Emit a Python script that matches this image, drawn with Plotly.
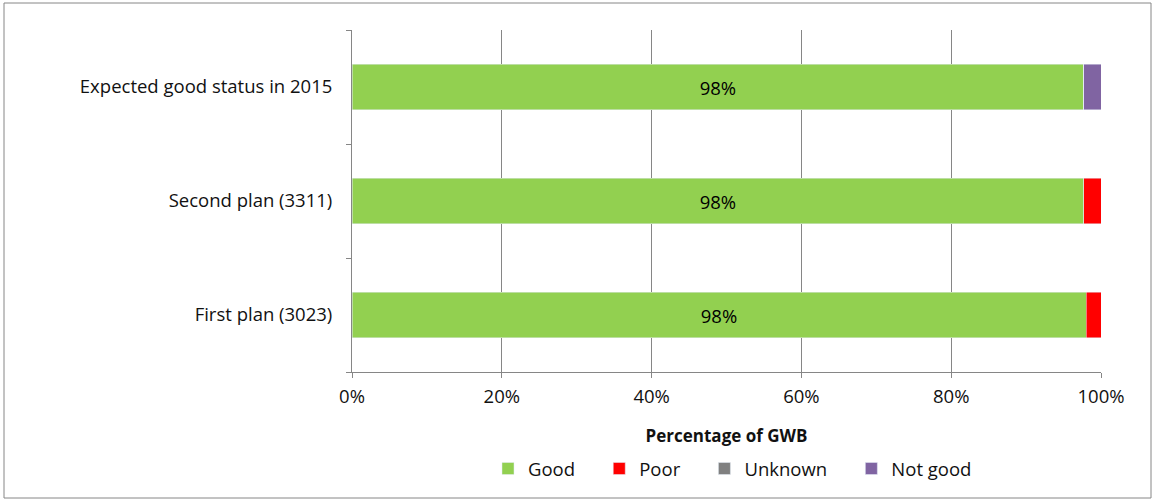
import plotly.graph_objects as go

categories = ["First plan (3023)", "Second plan (3311)", "Expected good status in 2015"]
good = [98.0, 97.7, 97.7]
poor = [2.0, 2.3, 0.0]
unknown = [0.0, 0.0, 0.0]
not_good = [0.0, 0.0, 2.3]
good_labels = ["98%", "98%", "98%"]
x_ticks = [0, 20, 40, 60, 80, 100]
x_tick_labels = ["0%", "20%", "40%", "60%", "80%", "100%"]
series_names = ["Good", "Poor", "Unknown", "Not good"]

FONT = "Open Sans"
SZ = 18.5
PAD = "\u00A0" * 4

fig = go.Figure()
fig.add_trace(go.Bar(y=categories, x=good, name=series_names[0] + PAD, orientation="h",
                     marker=dict(color="#92D050"), text=good_labels,
                     textposition="inside", insidetextanchor="middle",
                     textfont=dict(color="black", size=SZ, family=FONT)))
fig.add_trace(go.Bar(y=categories, x=poor, name=series_names[1] + PAD, orientation="h",
                     marker=dict(color="#FF0000")))
fig.add_trace(go.Bar(y=categories, x=unknown, name=series_names[2] + PAD, orientation="h",
                     marker=dict(color="#808080")))
fig.add_trace(go.Bar(y=categories, x=not_good, name=series_names[3], orientation="h",
                     marker=dict(color="#8064A2")))

L, R, T, B = 352, 54, 30, 128
W, H = 1155, 500
pw, ph = W - L - R, H - T - B

fig.update_layout(
    barmode="stack",
    bargap=0.6,
    width=W, height=H,
    margin=dict(l=L, r=R, t=T, b=B, autoexpand=False),
    plot_bgcolor="white", paper_bgcolor="white",
    font=dict(family=FONT, size=SZ, color="#111111"),
    showlegend=True,
    legend=dict(orientation="h", x=0.508, xanchor="center", y=-0.228, yanchor="top",
                font=dict(size=SZ), traceorder="normal", itemwidth=30,
                bgcolor="rgba(0,0,0,0)"),
    xaxis=dict(range=[0, 100], tickvals=x_ticks, ticktext=x_tick_labels,
               showgrid=True, gridcolor="#868686", gridwidth=1,
               showline=True, linecolor="#868686", ticks="outside", tickcolor="#868686",
               ticklen=5, zeroline=False, ticklabelstandoff=3,
               title=dict(text="<b>Percentage of GWB</b>", font=dict(size=17), standoff=22)),
    yaxis=dict(showline=True, linecolor="#868686", ticks="outside", tickson="boundaries",
               tickcolor="#868686", ticklen=5, showgrid=False, ticklabelstandoff=15),
    shapes=[dict(type="rect", xref="paper", yref="paper",
                 x0=(4 - L) / pw, x1=(W - 4 - L) / pw,
                 y0=-(H - 2 - T - ph) / ph, y1=1 + (T - 3) / ph,
                 line=dict(color="#868686", width=1), layer="below")],
)

fig.write_html("out.html")
